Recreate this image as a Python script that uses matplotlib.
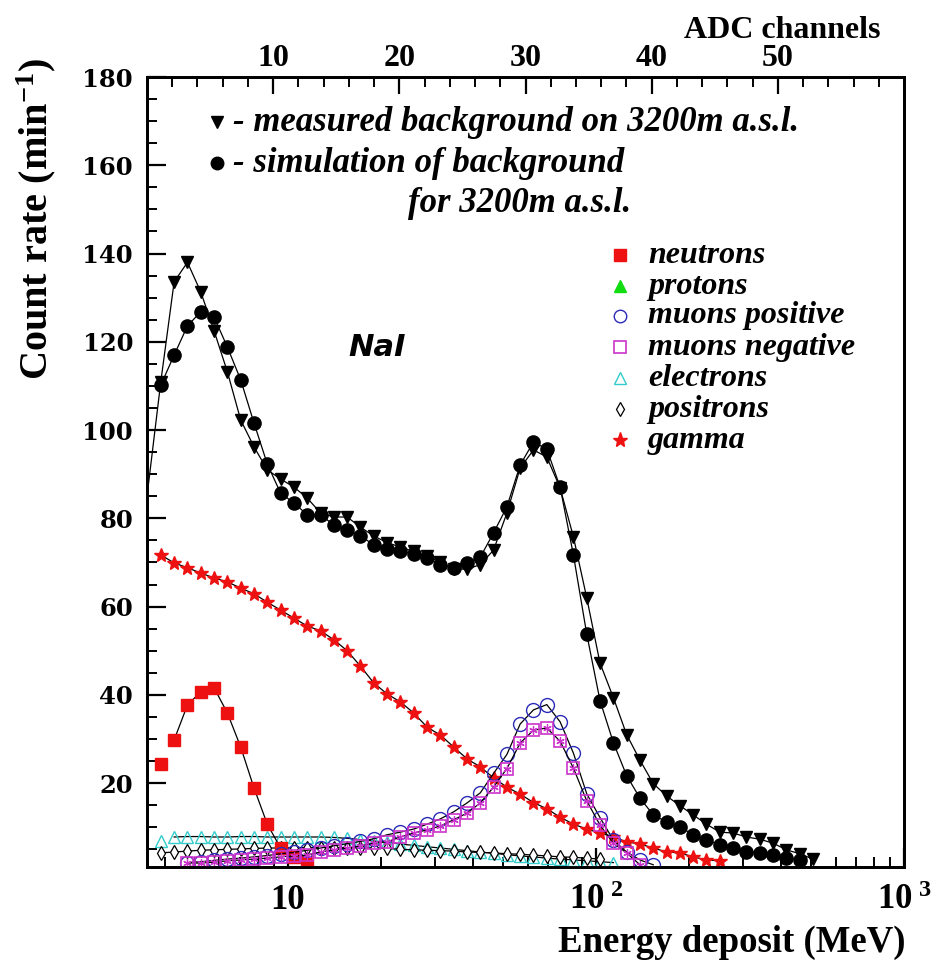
import matplotlib
matplotlib.use("Agg")
import matplotlib.pyplot as plt
from matplotlib.ticker import FixedLocator, FixedFormatter, NullFormatter, MultipleLocator

# ---------------- data ----------------
energy = [3.870, 4.275, 4.722, 5.216, 5.761, 6.364, 7.029, 7.765, 8.577, 9.474,
          10.46, 11.56, 12.77, 14.10, 15.58, 17.21, 19.01, 21.00, 23.19, 25.62,
          28.30, 31.26, 34.53, 38.14, 42.13, 46.53, 51.40, 56.77, 62.71, 69.27,
          76.51, 84.52, 93.36, 103.1, 113.9, 125.8, 139.0, 153.5, 169.6, 187.3,
          206.9, 228.5, 252.4, 278.8, 308.0, 340.2, 375.8, 415.1, 458.5, 506.5]

measured_start_energy = 3.49
measured_start = 85.0
measured = [111, 133.6, 138, 131.3, 122.5, 113.2, 102.3, 96.2, 91.0, 88.9,
            87.1, 84.6, 81.2, 80.3, 80.3, 78, 76, 74.5, 73.5, 72.5,
            71.5, 70, 68.5, 68.5, 69.5, 72.8, 81.2, 91.4, 95.5, 93.9,
            86.9, 75.8, 62, 47.2, 39.4, 31, 25.2, 19.9, 17.1, 14.9,
            12.8, 10.7, 8.9, 8.7, 7.8, 7.3, 6.4, 4.9, 4.0, 2.8]

simulation = [110.2, 117, 123.6, 126.8, 125.6, 118.8, 111.4, 101.6, 92.3, 85.7,
              83.5, 80.8, 80.8, 78.5, 77.4, 76.0, 74, 73, 72.5, 72,
              71, 69.5, 68.8, 69.9, 71.2, 76.7, 82.6, 92.1, 97.3, 95.7,
              87.1, 71.7, 53.8, 38.7, 29.2, 21.7, 16.6, 12.8, 11.2, 10.1,
              8.3, 7.1, 6.0, 5.3, 4.4, 4.2, 3.7, 3.0, 2.6]

neutrons = [24.3, 29.8, 37.7, 40.7, 41.6, 35.9, 28.2, 18.9, 10.7, 5.3, 3.3, 2.1]

gamma = [71.7, 69.9, 68.8, 67.6, 66.5, 65.6, 64.2, 62.9, 61.0, 59.2,
         57.4, 55.6, 54.5, 52.5, 50.0, 46.5, 42.7, 40.2, 38.4, 35.9,
         32.7, 30.9, 28.2, 25.5, 23.7, 21.2, 19.1, 17.5, 15.6, 14.2,
         12.3, 10.7, 9.6, 8.7, 7.8, 6.7, 6.2, 5.3, 4.4, 4.2,
         3.3, 2.6, 2.4]

# muons start at the third energy bin
muons_pos = [2.0, 2.2, 2.5, 2.8, 3.0, 3.3, 3.6, 4.0, 4.3, 4.8,
             5.3, 5.8, 6.3, 6.8, 7.4, 8.3, 8.9, 9.6, 10.7, 11.9,
             13.5, 15.5, 17.8, 22.2, 26.5, 33.4, 36.6, 37.8, 33.9, 26.8,
             17.6, 12.2, 7.1, 4.4, 2.6, 1.5]
muons_neg = [1.9, 1.9, 2.1, 2.4, 2.6, 2.8, 3.0, 3.3, 3.5, 3.7,
             4.4, 4.9, 5.3, 5.8, 6.4, 6.7, 7.8, 8.7, 9.4, 10.3,
             11.7, 13.2, 15.5, 19.1, 23.3, 29.1, 32.0, 32.5, 29.5, 23.4,
             16.0, 10.5, 6.4, 4.2, 1.5]

electrons = [6.9, 7.8, 7.9, 7.9, 7.8, 7.8, 7.9, 7.9, 7.8, 7.8,
             7.8, 7.8, 7.8, 7.7, 7.5, 7.2, 6.9, 6.6, 6.2, 5.9,
             5.6, 5.3, 5.0, 4.7, 4.4, 4.1, 3.8, 3.5, 3.3, 3.0,
             2.8, 2.6, 2.4, 2.2, 2.0]

positrons = [4.2, 4.4, 4.6, 4.8, 4.9, 5.0, 5.1, 5.2, 5.3, 5.3,
             5.4, 5.4, 5.4, 5.4, 5.4, 5.3, 5.3, 5.2, 5.0, 4.9,
             4.8, 4.7, 4.6, 4.4, 4.3, 4.2, 4.0, 3.9, 3.7, 3.5,
             3.3, 3.2, 3.0, 2.8]

legend_labels = ["neutrons", "protons", "muons positive", "muons negative",
                 "electrons", "positrons", "gamma"]

x_tick_values = [10, 100, 1000]
x_tick_labels = ["10", r"$10^{\ 2}$", r"$10^{\ 3}$"]
y_tick_values = [20, 40, 60, 80, 100, 120, 140, 160, 180]
adc_tick_values = [10, 20, 30, 40, 50]

# ---------------- style ----------------
plt.rcParams['mathtext.fontset'] = 'custom'
plt.rcParams['mathtext.rm'] = 'Liberation Serif:bold'
plt.rcParams['mathtext.it'] = 'Liberation Serif:bold:italic'
plt.rcParams['mathtext.bf'] = 'Liberation Serif:bold'

SERIF = 'Liberation Serif'
RED = '#ee1111'
GREEN = '#11dd11'
BLUE = '#2b2bb8'
MAGENTA = '#cc33cc'
CYAN = '#33cccc'

W, H = 943, 961
L, R, T, B = 147, 904, 77, 867
fig = plt.figure(figsize=(W / 100, H / 100), dpi=100)
ax = fig.add_axes([L / W, 1 - B / H, (R - L) / W, (B - T) / H])
ax.set_xscale('log')
ax.set_xlim(3.49, 1000)
ax.set_ylim(1, 180)

lw = 0.9
# measured background
ax.plot([measured_start_energy] + energy, [measured_start] + measured, color='black', lw=lw,
        marker='v', ms=9, markevery=slice(1, None), zorder=6)
# simulation
ax.plot(energy[:len(simulation)], simulation, color='black', lw=lw, marker='o', ms=9.5, zorder=6)
# neutrons
ax.plot(energy[1:len(neutrons)], neutrons[1:], color='black', lw=lw, zorder=4)
ax.plot(energy[:len(neutrons)], neutrons, ls='none', marker='s', ms=9, color=RED, zorder=4)
# gamma
ax.plot(energy[:len(gamma)], gamma, color='black', lw=lw, zorder=4)
ax.plot(energy[:len(gamma)], gamma, ls='none', marker='*', ms=10, color=RED, mec=RED, zorder=4)
# electrons
ax.plot(energy[1:len(electrons)], electrons[1:], color='black', lw=lw, zorder=3)
ax.plot(energy[:len(electrons)], electrons, ls='none', marker='^', ms=9, mfc='none', mec=CYAN,
        mew=1.0, zorder=3)
# positrons
ax.plot(energy[:len(positrons)], positrons, color='black', lw=lw, zorder=3)
ax.plot(energy[:len(positrons)], positrons, ls='none', marker='d', ms=7.5, mfc='white', mec='black',
        mew=0.9, zorder=3)
# muons
e_mu_p = energy[2:2 + len(muons_pos)]
e_mu_n = energy[2:2 + len(muons_neg)]
ax.plot(e_mu_p, muons_pos, color='black', lw=lw, zorder=4)
ax.plot(e_mu_p, muons_pos, ls='none', marker='o', ms=10, mfc='none', mec=BLUE, mew=1.0, zorder=4)
ax.plot(e_mu_n, muons_neg, color='black', lw=lw, zorder=5)
ax.plot(e_mu_n, muons_neg, ls='none', marker='s', ms=9, mfc='none', mec=MAGENTA, mew=1.2, zorder=5)
ax.plot(e_mu_n, muons_neg, ls='none', marker=(6, 2, 0), ms=6, mec=MAGENTA, mew=0.9, zorder=5)

# ---------------- axes cosmetics ----------------
for s in ax.spines.values():
    s.set_linewidth(2)
ax.xaxis.set_major_locator(FixedLocator(x_tick_values))
ax.xaxis.set_major_formatter(FixedFormatter(x_tick_labels))
minor_x = [m * 10 ** k for k in range(0, 3) for m in range(2, 10)]
ax.xaxis.set_minor_locator(FixedLocator(minor_x))
ax.xaxis.set_minor_formatter(NullFormatter())
ax.yaxis.set_major_locator(FixedLocator(y_tick_values))
ax.yaxis.set_major_formatter(FixedFormatter([str(v) for v in y_tick_values]))
ax.yaxis.set_minor_locator(MultipleLocator(5))
ax.tick_params(axis='both', which='major', direction='in', length=14, width=1.6)
ax.tick_params(axis='both', which='minor', direction='in', length=7, width=1.4)
ax.tick_params(axis='x', which='major', pad=12)
ax.tick_params(axis='y', which='major', pad=10)
for lab in ax.get_yticklabels():
    lab.set_fontfamily('DejaVu Serif')
    lab.set_fontweight('bold')
    lab.set_fontsize(17.5)
for lab in ax.get_xticklabels():
    lab.set_fontfamily(SERIF)
    lab.set_fontweight('bold')
    lab.set_fontsize(25)

# top ADC axis
ax2 = ax.twiny()
ax2.set_xlim(0, 60)
ax2.xaxis.set_major_locator(FixedLocator(adc_tick_values))
ax2.xaxis.set_minor_locator(MultipleLocator(2))
ax2.tick_params(axis='x', which='major', direction='in', length=12, width=1.6, pad=3)
ax2.tick_params(axis='x', which='minor', direction='in', length=7, width=1.4)
for s in ax2.spines.values():
    s.set_linewidth(2)
for lab in ax2.get_xticklabels():
    lab.set_fontfamily(SERIF)
    lab.set_fontweight('bold')
    lab.set_fontsize(23)

# axis titles
fig.text(880 / W, 1 - 30 / H, "ADC channels", fontfamily=SERIF, fontweight='bold',
         fontsize=23, ha='right', va='center')
fig.text(905 / W, 1 - 942 / H, "Energy deposit (MeV)", fontfamily=SERIF, fontweight='bold',
         fontsize=26.5, ha='right', va='center')
fig.text(36 / W, 1 - 58 / H, r"Count rate (min$^{-1}$)", fontfamily=SERIF, fontweight='bold',
         fontsize=29, ha='center', va='top', rotation=90)

# ---------------- annotations ----------------
def fx(px):
    return (px - L) / (R - L)

def fy(py):
    return (B - py) / (B - T)

ifont = dict(fontfamily=SERIF, fontweight='bold', fontstyle='italic', fontsize=25)
lfont = dict(fontfamily=SERIF, fontweight='bold', fontstyle='italic', fontsize=23)
ax.plot([fx(217)], [fy(122)], transform=ax.transAxes, marker='v', ms=9, color='black', ls='none')
ax.text(fx(233), fy(122), "- measured background on 3200m a.s.l.", transform=ax.transAxes,
        ha='left', va='center', **ifont)
ax.plot([fx(217)], [fy(163)], transform=ax.transAxes, marker='o', ms=9, color='black', ls='none')
ax.text(fx(233), fy(163), "- simulation of background", transform=ax.transAxes,
        ha='left', va='center', **ifont)
ax.text(fx(408), fy(203), "for 3200m a.s.l.", transform=ax.transAxes,
        ha='left', va='center', **ifont)

ax.text(fx(348), fy(347), "NaI", transform=ax.transAxes, ha='left', va='center',
        fontfamily='DejaVu Sans', fontweight='bold', fontstyle='oblique', fontsize=22)

legend_y = [255, 286, 316, 347, 378, 409, 440]
legend_styles = [
    dict(marker='s', ms=9, color=RED),
    dict(marker='^', ms=9, color=GREEN),
    dict(marker='o', ms=9, mfc='none', mec=BLUE, mew=1.0),
    dict(marker='s', ms=9, mfc='none', mec=MAGENTA, mew=1.2),
    dict(marker='^', ms=8, mfc='none', mec=CYAN, mew=1.0),
    dict(marker='d', ms=7, mfc='white', mec='black', mew=0.9),
    dict(marker='*', ms=11, color=RED),
]
for lab, py, st in zip(legend_labels, legend_y, legend_styles):
    ax.plot([fx(620)], [fy(py)], transform=ax.transAxes, ls='none', **st)
    ax.text(fx(648), fy(py), lab, transform=ax.transAxes, ha='left', va='center', **lfont)

fig.savefig("out.png", dpi=100)
